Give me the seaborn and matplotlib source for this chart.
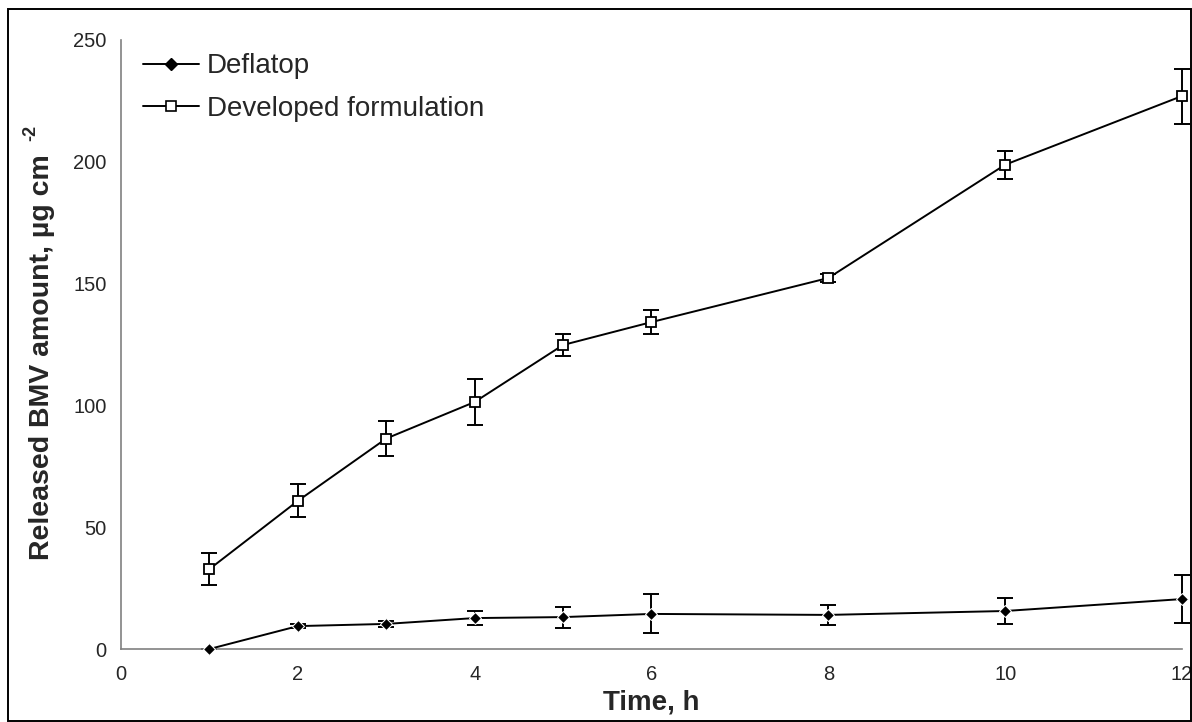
import pandas as pd
import seaborn as sns
import matplotlib.pyplot as plt
from matplotlib.patches import Rectangle
from matplotlib.lines import Line2D

time_h = [1, 2, 3, 4, 5, 6, 8, 10, 12]
deflatop = [0, 9.4, 10.3, 12.7, 13.1, 14.4, 14.0, 15.6, 20.5]
deflatop_err = [0, 0.8, 1.2, 2.7, 4.3, 8.0, 4.0, 5.5, 9.8]
developed = [32.8, 60.8, 86.4, 101.4, 124.8, 134.2, 152.3, 198.8, 227.0]
developed_err = [6.5, 6.8, 7.2, 9.5, 4.5, 5.0, 1.8, 5.7, 11.3]

sns.set_style("white")
plt.rcParams['font.family'] = ['Liberation Sans', 'DejaVu Sans']

df = pd.DataFrame({
    "Time": time_h * 2,
    "Released": deflatop + developed,
    "Formulation": ["Deflatop"] * len(time_h) + ["Developed formulation"] * len(time_h),
})

fig = plt.figure(figsize=(11.92, 7.22), dpi=100)
ax = fig.add_axes([0.1015, 0.1011, 0.8901, 0.8435])

sns.lineplot(data=df, x="Time", y="Released", hue="Formulation", style="Formulation",
             palette=["black", "black"], markers={"Deflatop": "D", "Developed formulation": "s"},
             dashes=False, markersize=7.5, linewidth=1.4, ax=ax, legend=False)

# filled diamond / open square
lines = ax.get_lines()
lines[0].set_markerfacecolor("black")
lines[0].set_markersize(6.3)
lines[1].set_markerfacecolor("white")
lines[1].set_markeredgecolor("black")
lines[1].set_markeredgewidth(1.3)
for ln in lines:
    ln.set_clip_on(False)
    ln.set_zorder(3)

for y, e in [(deflatop, deflatop_err), (developed, developed_err)]:
    eb = ax.errorbar(time_h, y, yerr=e, fmt="none", ecolor="black",
                     elinewidth=1.4, capsize=6, capthick=1.4, zorder=2)
    for art in eb.lines[1] + eb.lines[2]:
        art.set_clip_on(False)

ax.set_xlim(0, 12)
ax.set_ylim(0, 250)
ax.set_xticks(range(0, 13, 2))
ax.set_yticks(range(0, 251, 50))
ax.tick_params(axis="both", labelsize=14.5, direction="out", length=4.5, width=1,
               color="#808080", pad=6)
ax.tick_params(axis="x", pad=7)
sns.despine(ax=ax)
for s in ["left", "bottom"]:
    ax.spines[s].set_color("#808080")
    ax.spines[s].set_linewidth(1.2)

ax.set_xlabel("Time, h", fontsize=20, fontweight="bold")
ax.xaxis.set_label_coords(0.5, -0.066)
ax.set_ylabel("Released BMV amount, µg cm", fontsize=20.5, fontweight="bold")
ax.yaxis.set_label_coords(-0.062, 0.479)
fig.text(31 / 1192, 1 - 133 / 722, "-2", fontsize=13, fontweight="bold",
         rotation=90, ha="center", va="center")

handles = [
    Line2D([], [], color="black", marker="D", markersize=6, markerfacecolor="black", linewidth=1.4),
    Line2D([], [], color="black", marker="s", markersize=7, markerfacecolor="white",
           markeredgewidth=1.2, linewidth=1.4),
]
ax.legend(handles, ["Deflatop", "Developed formulation"], loc="upper left", frameon=False,
          fontsize=20, handlelength=2.0, handletextpad=0.3, borderaxespad=0, borderpad=0,
          bbox_to_anchor=(22 / 1061, 0.978), labelspacing=0.58)

fig.patches.append(Rectangle((8 / 1192, 1 / 722), 1183 / 1192, 712 / 722, transform=fig.transFigure,
                             fill=False, edgecolor="black", linewidth=1.4))

fig.savefig("out.png", dpi=100)
